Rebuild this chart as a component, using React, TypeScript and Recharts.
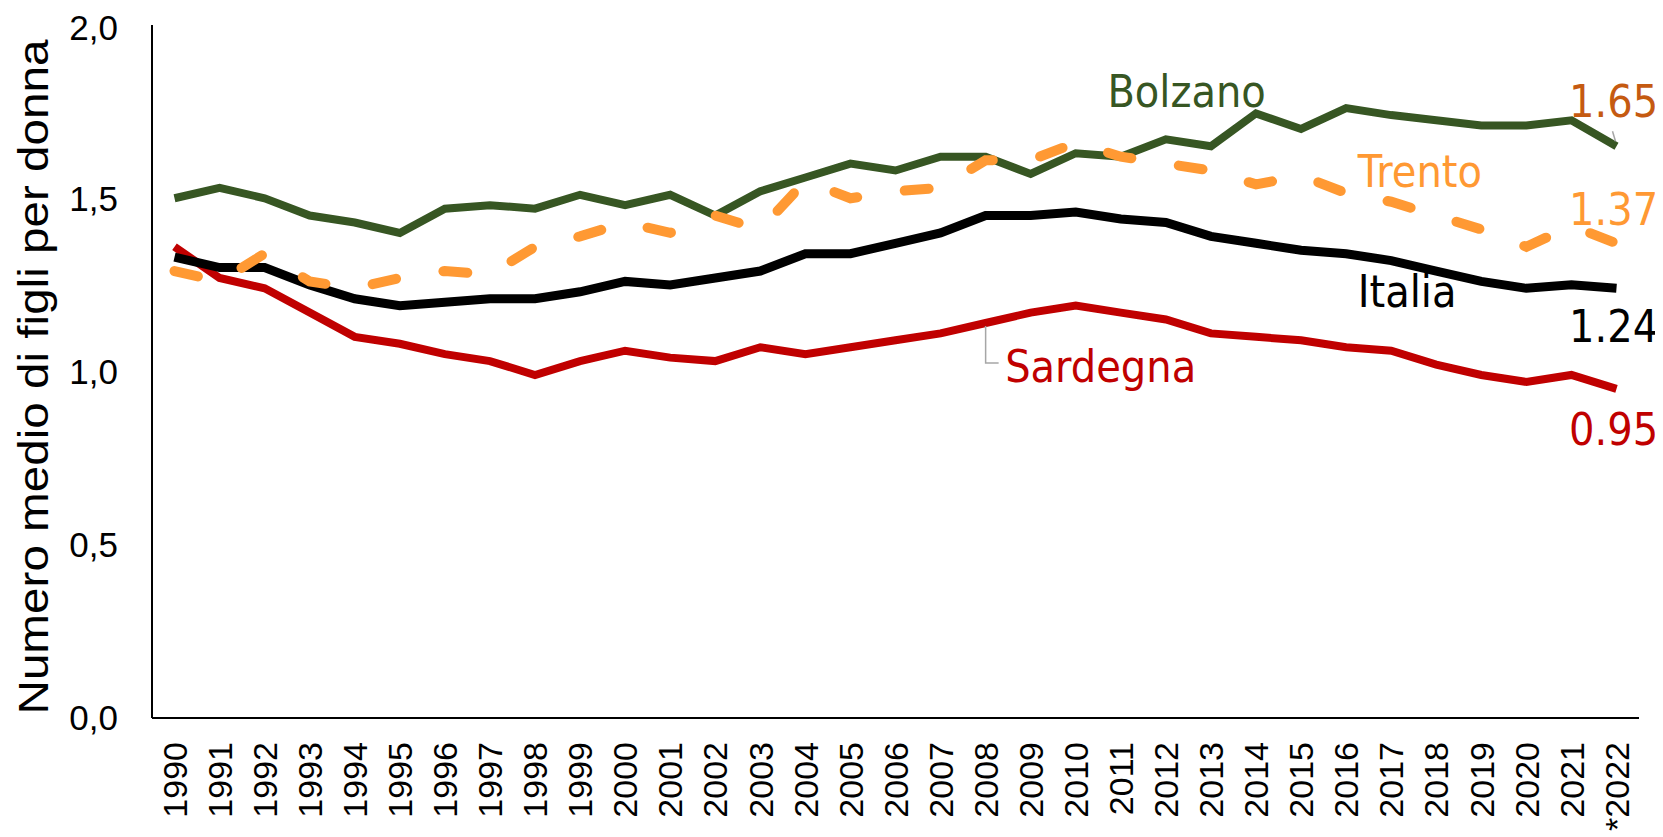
import { LineChart, Line, XAxis, YAxis, LabelList, Label } from 'recharts';

const years = [
  '1990', '1991', '1992', '1993', '1994', '1995', '1996', '1997', '1998', '1999',
  '2000', '2001', '2002', '2003', '2004', '2005', '2006', '2007', '2008', '2009',
  '2010', '2011', '2012', '2013', '2014', '2015', '2016', '2017', '2018', '2019',
  '2020', '2021', '*2022',
];

const italia = [
  1.33, 1.30, 1.30, 1.25, 1.21, 1.19, 1.20, 1.21, 1.21, 1.23,
  1.26, 1.25, 1.27, 1.29, 1.34, 1.34, 1.37, 1.40, 1.45, 1.45,
  1.46, 1.44, 1.43, 1.39, 1.37, 1.35, 1.34, 1.32, 1.29, 1.26,
  1.24, 1.25, 1.24,
];

const bolzano = [
  1.50, 1.53, 1.50, 1.45, 1.43, 1.40, 1.47, 1.48, 1.47, 1.51,
  1.48, 1.51, 1.45, 1.52, 1.56, 1.60, 1.58, 1.62, 1.62, 1.57,
  1.63, 1.62, 1.67, 1.65, 1.745, 1.70, 1.76, 1.74, 1.725, 1.71,
  1.71, 1.725, 1.65,
];

const trento = [
  1.29, 1.26, 1.34, 1.26, 1.24, 1.27, 1.29, 1.28, 1.36, 1.39,
  1.43, 1.40, 1.45, 1.41, 1.55, 1.50, 1.52, 1.53, 1.61, 1.61,
  1.66, 1.62, 1.60, 1.58, 1.54, 1.565, 1.515, 1.49, 1.45, 1.41,
  1.36, 1.42, 1.37,
];

const sardegna = [
  1.36, 1.27, 1.24, 1.17, 1.10, 1.08, 1.05, 1.03, 0.99, 1.03,
  1.06, 1.04, 1.03, 1.07, 1.05, 1.07, 1.09, 1.11, 1.14, 1.17,
  1.19, 1.17, 1.15, 1.11, 1.10, 1.09, 1.07, 1.06, 1.02, 0.99,
  0.97, 0.99, 0.95,
];

const yTicks = [0, 0.5, 1, 1.5, 2];

const data = years.map((year, i) => ({
  year,
  italia: italia[i],
  bolzano: bolzano[i],
  trento: trento[i],
  sardegna: sardegna[i],
}));

const LABEL_FONT = "'DejaVu Sans', sans-serif";
const AXIS_FONT = "'Liberation Sans', Arial, sans-serif";

type Note = {
  index: number;
  text: string;
  dx: number;
  dy: number;
  color: string;
  leader?: string;
};

// annotations hung on a given point of a series (label + optional leader line)
function notes(list: Note[]) {
  return (props: any) => {
    const { x, y, index } = props;
    const hits = list.filter((n) => n.index === index);
    if (!hits.length) return null;
    return (
      <g>
        {hits.map((n, k) => (
          <g key={k}>
            {n.leader && (
              <path
                transform={`translate(${x} ${y})`}
                d={n.leader}
                stroke="#A6A6A6"
                strokeWidth={1.5}
                fill="none"
              />
            )}
            <text
              transform={`translate(${x + n.dx} ${y + n.dy}) scale(0.89 1)`}
              fill={n.color}
              fontSize={45}
              fontFamily={LABEL_FONT}
            >
              {n.text}
            </text>
          </g>
        ))}
      </g>
    );
  };
}

function YearTick({ x, y, payload }: any) {
  return (
    <text
      x={x}
      y={y}
      transform={`rotate(-90 ${x} ${y})`}
      textAnchor="end"
      dy="0.36em"
      fontSize={34}
      fontFamily={AXIS_FONT}
      fill="#000"
    >
      {payload.value}
    </text>
  );
}

function AxisTitle() {
  return (
    <text
      x={40}
      y={369}
      transform="rotate(-90 40 369)"
      textAnchor="middle"
      fontSize={43}
      fontFamily={AXIS_FONT}
      textLength={675}
      lengthAdjust="spacingAndGlyphs"
      fill="#000"
    >
      Numero medio di figli per donna
    </text>
  );
}

export default function App() {
  return (
    <LineChart
      width={1655}
      height={828}
      data={data}
      margin={{ top: 17, right: 24, bottom: 18, left: 0 }}
    >
      <XAxis
        dataKey="year"
        interval={0}
        height={100}
        padding={{ left: 22.5, right: 22.5 }}
        tickSize={0}
        tickMargin={24}
        tick={<YearTick />}
        axisLine={{ stroke: '#000', strokeWidth: 2 }}
        tickLine={false}
      />
      <YAxis
        width={144}
        domain={[0, 2]}
        ticks={yTicks}
        tickSize={0}
        tickMargin={34}
        tickLine={false}
        axisLine={{ stroke: '#000', strokeWidth: 2 }}
        tickFormatter={(v: number) => v.toFixed(1).replace('.', ',')}
        tick={{ fontSize: 35, fontFamily: AXIS_FONT, fill: '#000' }}
      >
        <Label content={<AxisTitle />} />
      </YAxis>
      <Line
        dataKey="sardegna"
        stroke="#C00000"
        strokeWidth={8}
        dot={false}
        isAnimationActive={false}
      >
        <LabelList
          dataKey="sardegna"
          content={notes([
            { index: 18, text: 'Sardegna', dx: 19.5, dy: 59, color: '#C00000', leader: 'M 0 3 L 0 40 L 13 40' },
            { index: 32, text: '0.95', dx: -47.5, dy: 56, color: '#C00000' },
          ])}
        />
      </Line>
      <Line
        dataKey="italia"
        stroke="#000000"
        strokeWidth={9}
        dot={false}
        isAnimationActive={false}
      >
        <LabelList
          dataKey="italia"
          content={notes([
            { index: 27, text: 'Italia', dx: -33.5, dy: 46, color: '#000000' },
            { index: 32, text: '1.24', dx: -47.5, dy: 54, color: '#000000' },
          ])}
        />
      </Line>
      <Line
        dataKey="bolzano"
        stroke="#375623"
        strokeWidth={8}
        dot={false}
        isAnimationActive={false}
      >
        <LabelList
          dataKey="bolzano"
          content={notes([
            { index: 22, text: 'Bolzano', dx: -58.5, dy: -32, color: '#375623' },
            { index: 32, text: '1.65', dx: -47.5, dy: -29, color: '#C55A11', leader: 'M -4 -15 L -1 -5' },
          ])}
        />
      </Line>
      <Line
        dataKey="trento"
        stroke="#FF9933"
        strokeWidth={10}
        strokeDasharray="24 48"
        strokeLinecap="round"
        dot={false}
        isAnimationActive={false}
      >
        <LabelList
          dataKey="trento"
          content={notes([
            { index: 27, text: 'Trento', dx: -33.5, dy: -15, color: '#FF9933' },
            { index: 32, text: '1.37', dx: -47.5, dy: -18, color: '#FF9933' },
          ])}
        />
      </Line>
    </LineChart>
  );
}
